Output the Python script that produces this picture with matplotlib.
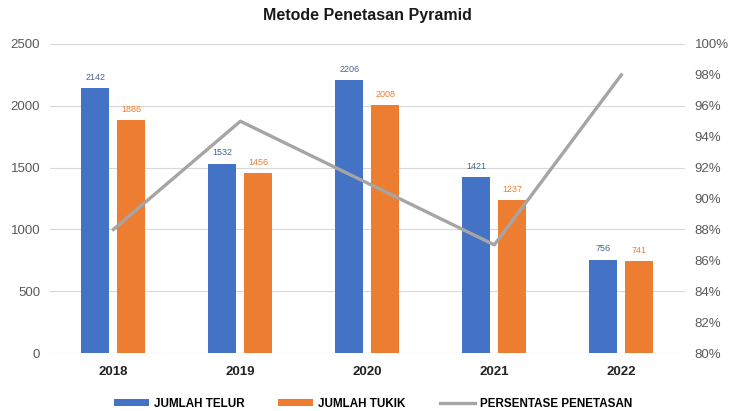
import numpy as np
import matplotlib.pyplot as plt

plt.rcParams['font.family'] = ['Liberation Sans', 'DejaVu Sans']

# data
tahun = ['2018', '2019', '2020', '2021', '2022']
jumlah_telur = [2142, 1532, 2206, 1421, 756]
jumlah_tukik = [1886, 1456, 2008, 1237, 741]
persentase = [88, 95, 91, 87, 98]

blue = '#4472C4'
orange = '#ED7D31'
gray = '#A5A5A5'
tick_col = '#595959'

fig = plt.figure(figsize=(7.34, 4.11), dpi=100)
ax = fig.add_axes([0.068, 0.141, 0.865, 0.752])

x = np.arange(len(tahun))
w = 0.22
off = 0.142

b1 = ax.bar(x - off, jumlah_telur, w, color=blue, label='JUMLAH TELUR', zorder=2)
b2 = ax.bar(x + off, jumlah_tukik, w, color=orange, label='JUMLAH TUKIK', zorder=2)

for xi, v in zip(x, jumlah_telur):
    ax.text(xi - off, v + 50, str(v), ha='center', va='bottom', fontsize=6.5, color='#4A6491')
for xi, v in zip(x, jumlah_tukik):
    ax.text(xi + off, v + 50, str(v), ha='center', va='bottom', fontsize=6.5, color=orange)

ax.set_xlim(-0.5, len(tahun) - 0.5)
ax.set_ylim(0, 2500)
ax.set_yticks(range(0, 2501, 500))
ax.set_xticks(x)
ax.set_xticklabels(tahun, fontsize=9.5, fontweight='bold', color='#222222')
ax.tick_params(axis='y', labelsize=9.5, labelcolor=tick_col, length=0, pad=7)
ax.tick_params(axis='x', length=0, pad=9)
ax.grid(axis='y', color='#D9D9D9', linewidth=0.8, zorder=0)
for s in ax.spines.values():
    s.set_visible(False)

ax2 = ax.twinx()
ln, = ax2.plot(x, persentase, color=gray, linewidth=2.4, label='PERSENTASE PENETASAN', zorder=3)
ax2.set_ylim(80, 100)
ax2.set_yticks(range(80, 101, 2))
ax2.set_yticklabels(['%d%%' % t for t in range(80, 101, 2)])
ax2.tick_params(axis='y', labelsize=9.5, labelcolor=tick_col, length=0, pad=7)
for s in ax2.spines.values():
    s.set_visible(False)

fig.text(0.5, 0.962, 'Metode Penetasan Pyramid', ha='center', va='center', fontsize=11.5, fontweight='bold', color='#1a1a1a')

fig.legend(handles=[b1, b2, ln], loc='center', bbox_to_anchor=(0.508, 0.018), ncol=3, frameon=False,
           handlelength=3.0, handleheight=0.5, columnspacing=2.9, handletextpad=0.45,
           prop={'weight': 'bold', 'size': 8.4})

plt.savefig('out.png', dpi=100)
